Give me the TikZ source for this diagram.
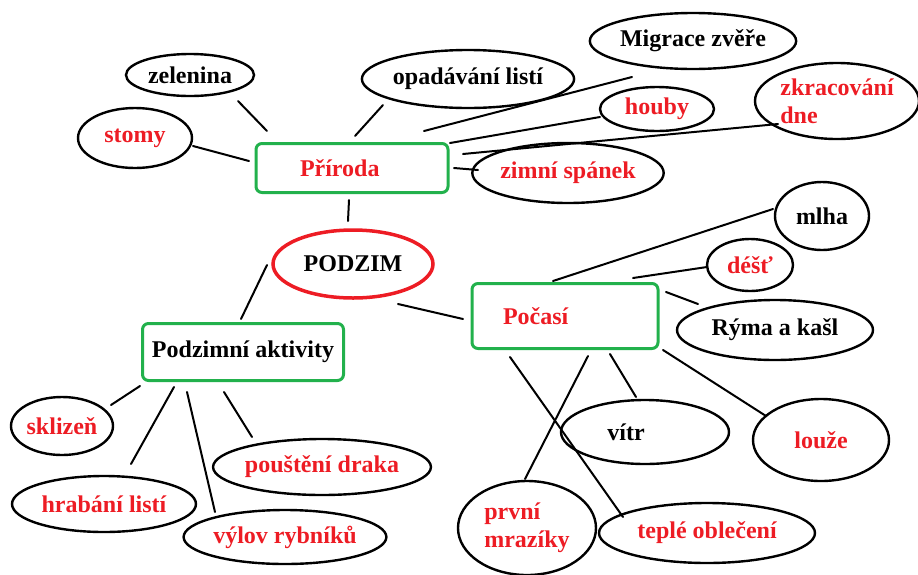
\documentclass[tikz,border=0pt]{standalone}
\usepackage{fontspec}
\setmainfont{Liberation Serif}
\usetikzlibrary{shapes.geometric}
\definecolor{mred}{RGB}{237,28,36}
\definecolor{mgreen}{RGB}{34,177,76}
\begin{document}
\begin{tikzpicture}[x=1pt,y=-1pt,
  every node/.style={font=\fontsize{24}{28}\selectfont\bfseries},
  oval/.style={ellipse, draw=black, line width=2.4pt, inner sep=0pt},
  gbox/.style={draw=mgreen, line width=3pt, rounded corners=6pt, inner ysep=0pt, align=left},
  conn/.style={line width=2pt, line cap=round},
  rt/.style={text=mred}]
\useasboundingbox (0,0) rectangle (918,574);

% ---- nodes ----
\node[oval, minimum width=128pt, minimum height=42pt] (zel) at (190,75) {zelenina};
\node[oval, rt, minimum width=114pt, minimum height=60pt] (stomy) at (135,138) {stomy};
\node[oval, minimum width=200pt, minimum height=58pt] (opad) at (468,79) {opadávání listí};
\node[oval, minimum width=200pt, minimum height=56pt] (migr) at (693,41) {Migrace zvěře};
\node[oval, rt, minimum width=114pt, minimum height=44pt] (houby) at (657,109) {houby};
\node[oval, rt, minimum width=164pt, minimum height=76pt, align=left] (zkr) at (837,101) {zkracování\\dne};
\node[oval, rt, minimum width=180pt, minimum height=60pt] (zim) at (568,173) {zimní spánek};
\node[gbox, rt, minimum height=49pt, text width=104pt, inner xsep=44pt] (prir) at (352,168) {Příroda};
\node[ellipse, draw=mred, line width=3.5pt, inner sep=0pt, minimum width=160pt, minimum height=68pt] (podzim) at (353,264) {PODZIM};
\node[gbox, minimum height=57pt, minimum width=201pt, inner xsep=4pt] (akt) at (243,352) {Podzimní aktivity};
\node[gbox, rt, minimum height=65pt, text width=124pt, inner xsep=31pt] (poc) at (565,316) {Počasí};
\node[oval, minimum width=94pt, minimum height=68pt] (mlha) at (822,216) {mlha};
\node[oval, rt, minimum width=86pt, minimum height=52pt] (dest) at (750,265) {déšť};
\node[oval, minimum width=196pt, minimum height=60pt] (ryma) at (775,330) {Rýma a kašl};
\node[oval, minimum width=168pt, minimum height=64pt] (vitr) at (645,432) {\hspace*{-38pt}vítr};
\node[oval, rt, minimum width=136pt, minimum height=82pt] (louze) at (821,440) {louže};
\node[oval, rt, minimum width=138pt, minimum height=94pt, align=left] (prvni) at (527,528) {první\\mrazíky};
\node[oval, rt, minimum width=216pt, minimum height=60pt] (teple) at (707,533) {teplé oblečení};
\node[oval, rt, minimum width=102pt, minimum height=58pt] (skl) at (62,426) {sklizeň};
\node[oval, rt, minimum width=184pt, minimum height=56pt] (hrab) at (104,504) {hrabání listí};
\node[oval, rt, minimum width=184pt, minimum height=54pt] (vylov) at (285,537) {výlov rybníků};
\node[oval, rt, minimum width=214pt, minimum height=56pt] (pous) at (322,467) {pouštění draka};

% ---- connector end points ----
\coordinate (zelA) at (238,101);   \coordinate (zelB) at (267,131);
\coordinate (stoA) at (193,146);   \coordinate (stoB) at (249,161);
\coordinate (opaA) at (383,105);   \coordinate (opaB) at (355,136);
\coordinate (migA) at (632,77);    \coordinate (migB) at (424,131);
\coordinate (houA) at (600,117);   \coordinate (houB) at (450,143);
\coordinate (zkrA) at (778,124);   \coordinate (zkrB) at (463,154);
\coordinate (zimA) at (478,170);   \coordinate (zimB) at (454,168);
\coordinate (priA) at (349,200);   \coordinate (priB) at (348,221);
\coordinate (aktA) at (267,265);   \coordinate (aktB) at (241,319);
\coordinate (pocA) at (398,304);   \coordinate (pocB) at (463,319);
\coordinate (mlhA) at (773,209);   \coordinate (mlhB) at (553,281);
\coordinate (desA) at (707,267);   \coordinate (desB) at (633,278);
\coordinate (rymA) at (698,304);   \coordinate (rymB) at (666,292);
\coordinate (vitA) at (636,397);   \coordinate (vitB) at (610,354);
\coordinate (louA) at (766,416);   \coordinate (louB) at (663,350);
\coordinate (prvA) at (525,479);   \coordinate (prvB) at (588,356);
\coordinate (tepA) at (623,517);   \coordinate (tepB) at (510,357);
\coordinate (sklA) at (111,405);   \coordinate (sklB) at (140,386);
\coordinate (hraA) at (131,464);   \coordinate (hraB) at (174,387);
\coordinate (vylA) at (215,512);   \coordinate (vylB) at (187,392);
\coordinate (pouA) at (252,437);   \coordinate (pouB) at (224,392);

% ---- connectors ----
\draw[conn] (zelA) -- (zelB);
\draw[conn] (stoA) -- (stoB);
\draw[conn] (opaA) -- (opaB);
\draw[conn] (migA) -- (migB);
\draw[conn] (houA) -- (houB);
\draw[conn] (zkrA) -- (zkrB);
\draw[conn] (zimA) -- (zimB);
\draw[conn] (priA) -- (priB);
\draw[conn] (aktA) -- (aktB);
\draw[conn] (pocA) -- (pocB);
\draw[conn] (mlhA) -- (mlhB);
\draw[conn] (desA) -- (desB);
\draw[conn] (rymA) -- (rymB);
\draw[conn] (vitA) -- (vitB);
\draw[conn] (louA) -- (louB);
\draw[conn] (prvA) -- (prvB);
\draw[conn] (tepA) -- (tepB);
\draw[conn] (sklA) -- (sklB);
\draw[conn] (hraA) -- (hraB);
\draw[conn] (vylA) -- (vylB);
\draw[conn] (pouA) -- (pouB);
\end{tikzpicture}
\end{document}
